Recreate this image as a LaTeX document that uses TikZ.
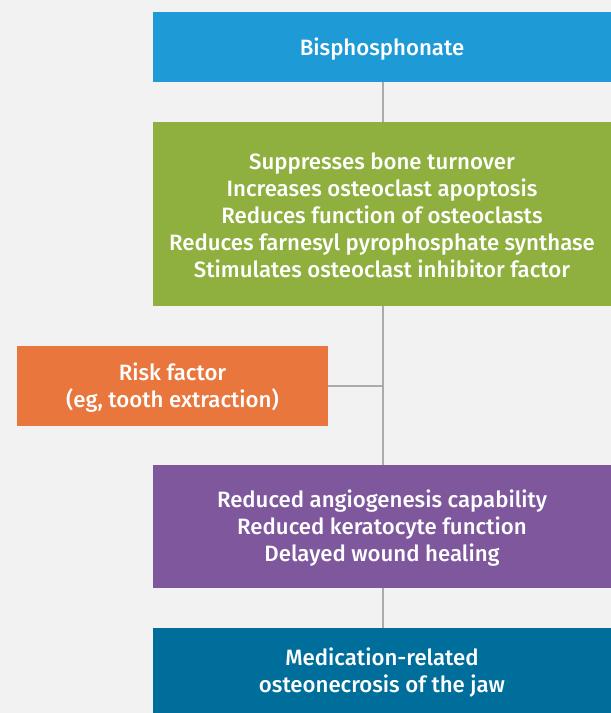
\documentclass[tikz,border=0pt]{standalone}
\usepackage{fontspec}
\setmainfont{Fira Sans Medium}
\definecolor{bgc}{HTML}{F2F2F2}
\definecolor{cblue}{HTML}{1E9AD6}
\definecolor{cgreen}{HTML}{8FB03F}
\definecolor{corange}{HTML}{E8763D}
\definecolor{cpurple}{HTML}{7F579D}
\definecolor{cteal}{HTML}{006E9A}
\definecolor{cline}{HTML}{ABABAB}
\begin{document}
\begin{tikzpicture}[x=1pt,y=-1pt,
  boxstyle/.style={fill=#1, inner sep=0pt},
  txtstyle/.style={text=white, inner sep=0pt, align=center, yshift=-2pt,
    font=\fontsize{22.2}{27}\selectfont},
  conn/.style={draw=cline, line width=2.2pt}]
\fill[bgc] (0,0) rectangle (611,713);
\useasboundingbox (0,0) rectangle (611,713);
\node[boxstyle=cblue, minimum width=458pt, minimum height=70pt] (b1) at (382,47) {};
\node[txtstyle] (t1) at (b1.center) {Bisphosphonate};
\node[boxstyle=cgreen, minimum width=458pt, minimum height=183.5pt] (b2) at (382,213.75) {};
\node[txtstyle] (t2) at (b2.center) {Suppresses bone turnover\\Increases osteoclast apoptosis\\Reduces function of osteoclasts\\Reduces farnesyl pyrophosphate synthase\\Stimulates osteoclast inhibitor factor};
\node[boxstyle=corange, minimum width=311pt, minimum height=79.5pt] (b3) at (172.5,385.75) {};
\node[txtstyle] (t3) at (b3.center) {Risk factor\\(eg, tooth extraction)};
\node[boxstyle=cpurple, minimum width=458pt, minimum height=122.5pt] (b4) at (382,526.25) {};
\node[txtstyle] (t4) at (b4.center) {Reduced angiogenesis capability\\Reduced keratocyte function\\Delayed wound healing};
\node[boxstyle=cteal, minimum width=458pt, minimum height=86pt] (b5) at (382,671) {};
\node[txtstyle] (t5) at (b5.center) {Medication-related\\osteonecrosis of the jaw};
\coordinate (j) at (383,385.75);
\draw[conn] (b1.south -| j) -- (b2.north -| j);
\draw[conn] (b2.south -| j) -- (b4.north -| j);
\draw[conn] (b3.east) -- (j);
\draw[conn] (b4.south -| j) -- (b5.north -| j);
\end{tikzpicture}
\end{document}
